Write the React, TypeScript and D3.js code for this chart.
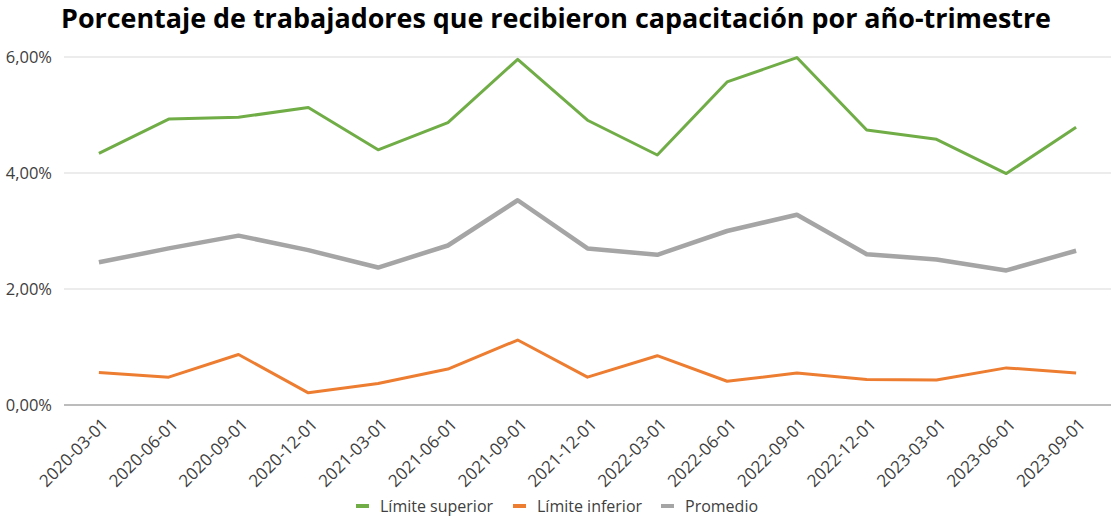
import { useRef, useEffect } from 'react';
import * as d3 from 'd3';

const periods = [
  '2020-03-01', '2020-06-01', '2020-09-01', '2020-12-01',
  '2021-03-01', '2021-06-01', '2021-09-01', '2021-12-01',
  '2022-03-01', '2022-06-01', '2022-09-01', '2022-12-01',
  '2023-03-01', '2023-06-01', '2023-09-01',
];

// values in percent
const limiteSuperior = [4.34, 4.93, 4.96, 5.13, 4.4, 4.87, 5.96, 4.91, 4.31, 5.57, 5.99, 4.74, 4.58, 3.99, 4.79];
const limiteInferior = [0.56, 0.48, 0.87, 0.21, 0.37, 0.62, 1.12, 0.48, 0.85, 0.41, 0.55, 0.44, 0.43, 0.64, 0.55];
const promedio = [2.46, 2.7, 2.92, 2.67, 2.37, 2.75, 3.53, 2.7, 2.59, 3.0, 3.28, 2.6, 2.51, 2.32, 2.66];

const yTicks = [0, 2, 4, 6];

const series = [
  { name: 'Límite superior', values: limiteSuperior, color: '#70ad47', width: 3 },
  { name: 'Límite inferior', values: limiteInferior, color: '#ed7d31', width: 3 },
  { name: 'Promedio', values: promedio, color: '#a5a5a5', width: 4.5 },
];

const W = 1112;
const H = 519;
const FONT = '"Open Sans", sans-serif';

export default function App() {
  const svgRef = useRef<SVGSVGElement>(null);

  useEffect(() => {
    if (!svgRef.current) return;
    const svg = d3.select(svgRef.current);
    svg.selectAll('*').remove();

    const left = 64;
    const right = 1111;
    const x = d3.scalePoint<string>().domain(periods).range([left, right]).padding(0.5);
    const y = d3.scaleLinear().domain([0, 6]).range([405, 57]);

    // Title
    svg.append('text')
      .attr('x', W / 2)
      .attr('y', 28)
      .attr('text-anchor', 'middle')
      .attr('font-family', FONT)
      .attr('font-weight', 700)
      .attr('font-size', '26px')
      .attr('textLength', 990)
      .attr('lengthAdjust', 'spacingAndGlyphs')
      .attr('fill', '#000')
      .text('Porcentaje de trabajadores que recibieron capacitación por año-trimestre');

    // Gridlines
    svg.append('g')
      .selectAll('line')
      .data(yTicks.filter((t) => t !== 0))
      .join('line')
      .attr('x1', left)
      .attr('x2', right)
      .attr('y1', (d) => y(d))
      .attr('y2', (d) => y(d))
      .attr('stroke', '#d9d9d9')
      .attr('stroke-width', 1.2);

    // Y labels
    svg.append('g')
      .selectAll('text')
      .data(yTicks)
      .join('text')
      .attr('x', 52)
      .attr('y', (d) => y(d))
      .attr('dy', '0.36em')
      .attr('text-anchor', 'end')
      .attr('font-family', FONT)
      .attr('font-size', '16.5px')
      .attr('fill', '#404040')
      .text((d) => d3.format('.2f')(d).replace('.', ',') + '%');

    // Base axis
    svg.append('line')
      .attr('x1', left)
      .attr('x2', right)
      .attr('y1', y(0))
      .attr('y2', y(0))
      .attr('stroke', '#a6a6a6')
      .attr('stroke-width', 1.5);

    // X labels
    svg.append('g')
      .selectAll('text')
      .data(periods)
      .join('text')
      .attr('transform', (d) => `translate(${(x(d) as number) + 6},${y(0) + 16}) rotate(-45)`)
      .attr('text-anchor', 'end')
      .attr('dy', '0.36em')
      .attr('font-family', FONT)
      .attr('font-size', '17px')
      .attr('fill', '#404040')
      .text((d) => d);

    // Lines
    const line = d3.line<number>()
      .x((_, i) => x(periods[i]) as number)
      .y((d) => y(d));

    series.forEach((s) => {
      svg.append('path')
        .attr('d', line(s.values) as string)
        .attr('fill', 'none')
        .attr('stroke', s.color)
        .attr('stroke-width', s.width)
        .attr('stroke-linejoin', 'round');
    });

    // Legend
    const legendX = [356, 513, 661];
    const lg = svg.append('g');
    series.forEach((s, i) => {
      lg.append('line')
        .attr('x1', legendX[i])
        .attr('x2', legendX[i] + 13)
        .attr('y1', 506)
        .attr('y2', 506)
        .attr('stroke', s.color)
        .attr('stroke-width', 4);
      lg.append('text')
        .attr('x', legendX[i] + 24)
        .attr('y', 506)
        .attr('dy', '0.36em')
        .attr('font-family', FONT)
        .attr('font-size', '16px')
        .attr('fill', '#404040')
        .text(s.name);
    });
  }, []);

  return (
    <svg
      ref={svgRef}
      width={W}
      height={H}
      style={{ position: 'absolute', left: 0, top: 0, background: '#fff' }}
    />
  );
}
